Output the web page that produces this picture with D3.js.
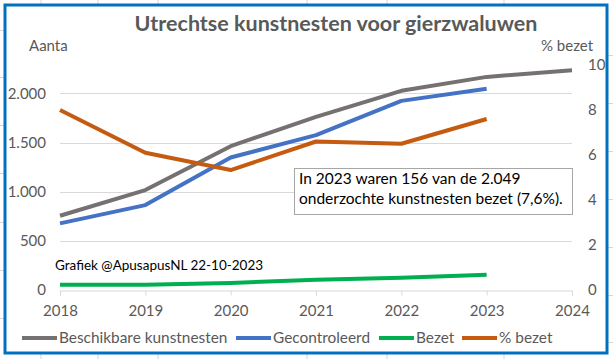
<!DOCTYPE html>
<html><head><meta charset="utf-8">
<script src="https://cdn.jsdelivr.net/npm/d3@7"></script>
<style>
html,body{margin:0;padding:0;background:#fff;}
svg{display:block;}
text{font-family:Lato,"Open Sans",sans-serif;}
</style></head>
<body>
<svg id="chart" width="613" height="359"></svg>
<script>
// ---- data ----
const years = [2018, 2019, 2020, 2021, 2022, 2023, 2024];
const beschikbaar = [756, 1017, 1464, 1762, 2027, 2169, 2237];      // 2018-2024
const gecontroleerd = [678, 864, 1349, 1576, 1925, 2049];          // 2018-2023
const bezet = [54, 53, 72, 104, 125, 156];                        // 2018-2023
const pctBezet = [8.0, 6.1, 5.33, 6.6, 6.5, 7.6];                 // 2018-2023
const leftTicks = [0, 500, 1000, 1500, 2000];
const leftTickLabels = ["0", "500", "1.000", "1.500", "2.000"];
const rightTicks = [0, 2, 4, 6, 8, 10];
const seriesNames = ["Beschikbare kunstnesten", "Gecontroleerd", "Bezet", "% bezet"];
const seriesColors = ["#767171", "#4472C4", "#00B050", "#C55A11"];
const title = "Utrechtse kunstnesten voor gierzwaluwen";
const annotation = ["In 2023 waren 156 van de 2.049", "onderzochte kunstnesten bezet (7,6%)."];
const credit = "Grafiek @ApusapusNL 22-10-2023";

const svg = d3.select("#chart");

// spreadsheet cell lines outside the chart
const bgV = [41, 98, 158, 307, 387, 504];
const bgHL = [30, 77, 125, 173, 222, 270, 318];
const bgHR = [55, 103, 151, 199, 247, 295, 342];
svg.selectAll(".bgv").data(bgV).join("line")
  .attr("x1", d => d).attr("x2", d => d).attr("y1", 0).attr("y2", 359)
  .attr("stroke", "#d4d4d4").attr("stroke-width", 1);
svg.selectAll(".bghl").data(bgHL).join("line")
  .attr("x1", 0).attr("x2", 6).attr("y1", d => d + 0.5).attr("y2", d => d + 0.5)
  .attr("stroke", "#d4d4d4");
svg.selectAll(".bghr").data(bgHR).join("line")
  .attr("x1", 606).attr("x2", 613).attr("y1", d => d + 0.5).attr("y2", d => d + 0.5)
  .attr("stroke", "#d4d4d4");

// chart area
svg.append("rect").attr("x", 5).attr("y", 5).attr("width", 602).attr("height", 348)
  .attr("fill", "#fff").attr("stroke", "#0070C0").attr("stroke-width", 3);

const x = d3.scaleLinear().domain([2018, 2024]).range([60, 572]);
const yL = d3.scaleLinear().domain([0, 2290]).range([290, 65]);
const yR = d3.scaleLinear().domain([0, 10]).range([290, 65]);

// gridlines
svg.append("g").selectAll("line").data(leftTicks.slice(1)).join("line")
  .attr("x1", x(2018)).attr("x2", x(2024))
  .attr("y1", d => Math.round(yL(d)) + 0.5).attr("y2", d => Math.round(yL(d)) + 0.5)
  .attr("stroke", "#d9d9d9").attr("stroke-width", 1);

// x axis
const xAxis = svg.append("g").attr("transform", `translate(0,${Math.round(yL(0)) + 0.5})`)
  .call(d3.axisBottom(x).tickValues(years).tickSize(5).tickPadding(10).tickFormat(d3.format("d")));
xAxis.select(".domain").attr("stroke", "#d9d9d9");
xAxis.selectAll(".tick line").attr("stroke", "#d9d9d9");
xAxis.selectAll("text").attr("fill", "#595959").style("font-size", "15px");

// left axis
const lAxis = svg.append("g").attr("transform", `translate(46,0)`)
  .call(d3.axisLeft(yL).tickValues(leftTicks).tickSize(0).tickPadding(0)
    .tickFormat((d, i) => leftTickLabels[i]));
lAxis.select(".domain").remove();
lAxis.selectAll("text").attr("fill", "#595959").style("font-size", "15px");

// right axis
const rAxis = svg.append("g").attr("transform", `translate(588,0)`)
  .call(d3.axisRight(yR).tickValues(rightTicks).tickSize(0).tickPadding(0));
rAxis.select(".domain").remove();
rAxis.selectAll("text").attr("fill", "#595959").style("font-size", "15px");

// axis titles
svg.append("text").attr("x", 29).attr("y", 51).text("Aanta")
  .attr("fill", "#595959").style("font-size", "15px");
svg.append("text").attr("x", 541).attr("y", 51).text("% bezet")
  .attr("fill", "#595959").style("font-size", "15px");

// title
svg.append("text").attr("x", 336).attr("y", 31).attr("text-anchor", "middle")
  .text(title).attr("fill", "#595959").style("font-size", "21.5px").style("font-weight", "bold");

// lines
const lineL = d3.line().x((d, i) => x(years[i])).y(d => yL(d));
const lineR = d3.line().x((d, i) => x(years[i])).y(d => yR(d));
const series = [
  {vals: beschikbaar, gen: lineL, c: seriesColors[0]},
  {vals: gecontroleerd, gen: lineL, c: seriesColors[1]},
  {vals: bezet, gen: lineL, c: seriesColors[2]},
  {vals: pctBezet, gen: lineR, c: seriesColors[3]}
];
svg.append("g").selectAll("path").data(series).join("path")
  .attr("d", s => s.gen(s.vals)).attr("fill", "none")
  .attr("stroke", s => s.c).attr("stroke-width", 4).attr("stroke-linejoin", "round");

// credit
svg.append("text").attr("x", 55).attr("y", 270).text(credit)
  .attr("fill", "#000").style("font-size", "13.5px");

// annotation box
const ann = svg.append("g");
ann.append("rect").attr("x", 294.5).attr("y", 168.5).attr("width", 278).attr("height", 46)
  .attr("fill", "#fff").attr("stroke", "#a6a6a6").attr("stroke-width", 1);
ann.selectAll("text").data(annotation).join("text")
  .attr("x", 299).attr("y", (d, i) => 184 + i * 20).text(d => d)
  .attr("fill", "#000").style("font-size", "15.5px");

// legend
const legX = [22, 236, 379, 462];
const leg = svg.append("g").selectAll("g").data(seriesNames).join("g")
  .attr("transform", (d, i) => `translate(${legX[i]},338)`);
leg.append("line").attr("x1", 0).attr("x2", 35).attr("y1", 0).attr("y2", 0)
  .attr("stroke", (d, i) => seriesColors[i]).attr("stroke-width", 4);
leg.append("text").attr("x", 37).attr("y", 5).text(d => d)
  .attr("fill", "#595959").style("font-size", "15.4px");
</script>
</body></html>
